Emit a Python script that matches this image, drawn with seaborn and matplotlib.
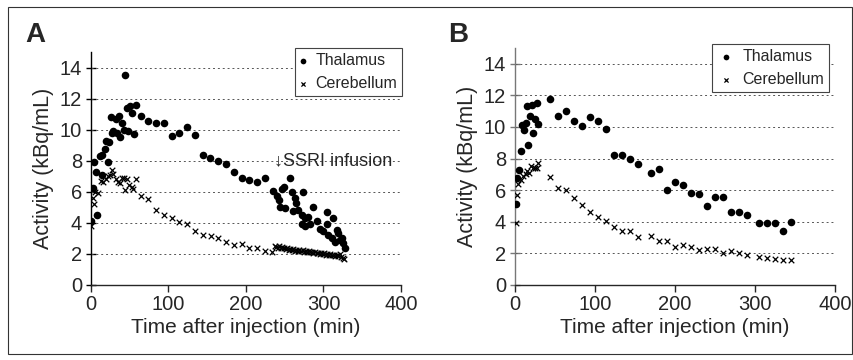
import matplotlib
matplotlib.use("Agg")
import matplotlib.pyplot as plt
import matplotlib.patches as patches
import seaborn as sns
import pandas as pd

# Panel A - thalamus
a_thal_t = [0.4, 2.2, 3.9, 6, 8.2, 11.6, 13.8, 14, 17.6, 20, 22, 23.6, 25.8, 27.5, 28.8, 32, 33,
            35.7, 38, 40, 42, 43.4, 46, 48, 50, 52.5, 55.5, 58, 64, 74, 84, 94, 104.5, 114, 124,
            134, 144, 154, 164, 174, 184.5, 194.5, 204, 214, 224.5, 235, 239.6, 243, 244, 246,
            249, 250, 256.8, 259, 261, 263, 265, 267.5, 272, 272, 274, 276, 276, 280, 282.6, 287,
            291, 295.5, 300, 304, 304, 306, 310.6, 312.6, 315, 317, 319, 321, 323.5, 324.7, 327.7]
a_thal_v = [4.1, 6.25, 7.95, 7.3, 4.5, 8.3, 7.05, 8.4, 8.75, 9.3, 7.9, 9.2, 10.8, 9.8, 9.9, 10.7, 9.8,
            10.9, 9.5, 10.4, 10.0, 13.5, 11.4, 9.9, 11.5, 11.05, 9.7, 11.6, 10.9, 10.55, 10.45, 10.45,
            9.6, 9.8, 10.2, 9.65, 8.4, 8.2, 8.0, 7.8, 7.25, 6.9, 6.75, 6.65, 6.9, 6.05, 5.7, 5.5, 5.05,
            6.2, 6.3, 4.95, 6.9, 6.0, 4.75, 5.6, 5.3, 4.85, 4.5, 3.9, 6.0, 4.3, 3.8, 4.4, 3.9, 5.05,
            4.1, 3.6, 3.45, 4.7, 3.9, 3.25, 3.05, 4.3, 2.8, 3.55, 3.35, 2.9, 3.05, 2.7, 2.4]

# Panel A - cerebellum
a_cer_t = [0.4, 2, 4, 5, 9.5, 12.5, 16, 19, 22, 25, 27.5, 29, 32, 35, 37.5, 39.5, 43, 44, 47, 49.5,
           52.5, 54.5, 58, 64, 74, 84, 94, 104, 114, 124, 134, 144, 154.5, 164, 174, 184.5, 194.5,
           204, 214, 224.5, 233,
           237, 239, 241, 243, 245, 247, 249, 251, 253, 255, 257, 259, 261, 263, 265, 267, 269, 271,
           273, 275, 277, 279, 281, 283, 285, 287, 289, 291, 293, 295, 297, 299, 301, 303, 305, 307,
           309, 311, 313, 315, 317, 319, 321, 323, 325, 327]
a_cer_v = [3.8, 5.6, 5.2, 6.0, 5.9, 6.7, 6.65, 6.8, 7.0, 7.1, 7.4, 7.15, 6.8, 6.65, 6.55, 6.9, 6.9,
           6.1, 6.8, 6.45, 6.3, 6.2, 6.8, 5.7, 5.55, 4.85, 4.5, 4.3, 4.05, 3.9, 3.45, 3.25, 3.17, 3.0,
           2.75, 2.55, 2.65, 2.4, 2.35, 2.2, 2.15,
           2.52, 2.45, 2.40, 2.48, 2.35, 2.42, 2.38, 2.30, 2.36, 2.28, 2.33, 2.25, 2.30, 2.22, 2.27,
           2.20, 2.24, 2.18, 2.23, 2.15, 2.20, 2.12, 2.17, 2.10, 2.14, 2.06, 2.11, 2.04, 2.08, 2.00,
           2.05, 1.98, 2.03, 1.95, 2.00, 1.93, 1.98, 1.90, 1.96, 1.88, 1.94, 1.85, 1.98, 1.80, 1.75,
           1.70]

# Panel B - thalamus
b_thal_t = [1, 2, 5, 7, 9, 11, 13.3, 14.6, 16.7, 18.75, 20.8, 23, 25, 27, 29, 43.75, 54, 63.75, 74,
            84, 94, 104, 114, 124, 134, 144, 154, 170, 180, 190.4, 200, 210, 220, 230, 240.4, 250.4,
            260.4, 270, 280, 290, 305, 315.4, 325.4, 335.4, 345.4]
b_thal_v = [5.1, 6.8, 7.3, 8.45, 10.15, 9.8, 10.25, 11.35, 8.85, 10.7, 11.4, 9.6, 10.5, 11.5, 10.2,
            11.75, 10.7, 11.0, 10.35, 10.05, 10.65, 10.35, 9.9, 8.2, 8.25, 7.95, 7.65, 7.1, 7.35, 6.0,
            6.5, 6.3, 5.85, 5.75, 5.0, 5.6, 5.6, 4.6, 4.65, 4.4, 3.9, 3.9, 3.95, 3.4, 4.0]

# Panel B - cerebellum
b_cer_t = [1, 2.5, 4, 7.5, 10.4, 13.3, 15.4, 18, 20, 22.5, 25, 27.5, 29, 43.75, 54, 63.75, 74, 84,
           94, 104, 114, 124, 134, 144, 154, 170, 180, 190, 200, 210, 220, 230, 240, 250, 260, 270,
           280, 290, 305, 315, 325, 335, 345]
b_cer_v = [3.95, 5.7, 6.4, 6.65, 6.9, 7.05, 7.2, 7.1, 7.55, 7.4, 7.4, 7.4, 7.7, 6.85, 6.15, 6.0,
           5.5, 5.05, 4.6, 4.3, 4.05, 3.65, 3.4, 3.4, 3.05, 3.1, 2.8, 2.8, 2.4, 2.55, 2.4, 2.2, 2.3,
           2.3, 2.05, 2.15, 2.05, 1.9, 1.8, 1.7, 1.65, 1.6, 1.6]

y_ticks = [0, 2, 4, 6, 8, 10, 12, 14]
x_ticks = [0, 100, 200, 300, 400]

sns.set_style("ticks")
plt.rcParams['font.family'] = ['Liberation Sans', 'DejaVu Sans']

fig = plt.figure(figsize=(8.54, 3.6), dpi=100)
ax_a = fig.add_axes([91 / 854, 1 - 285 / 360, 310 / 854, 233 / 360])
ax_b = fig.add_axes([515 / 854, 1 - 285 / 360, 320 / 854, 237 / 360])


def draw_panel(ax, thal_t, thal_v, cer_t, cer_v, spine_col):
    sns.scatterplot(x=thal_t, y=thal_v, ax=ax, marker='o', s=30, color='black',
                    edgecolor='black', linewidth=0, label='Thalamus', zorder=3)
    sns.scatterplot(x=cer_t, y=cer_v, ax=ax, marker='x', s=16, color='black',
                    linewidth=0.9, label='Cerebellum', zorder=3)
    ax.set_xlim(0, 400)
    ax.set_ylim(0, 15)
    ax.set_xticks(x_ticks)
    ax.set_yticks(y_ticks)
    for yv in y_ticks[1:]:
        ax.axhline(yv, color='#555555', linestyle=(0, (2, 3)), linewidth=0.7, zorder=1)
    sns.despine(ax=ax)
    ax.spines['left'].set_color(spine_col)
    ax.spines['left'].set_linewidth(1.0)
    ax.spines['bottom'].set_linewidth(1.0)
    ax.tick_params(axis='y', direction='inout', length=7, width=1, labelsize=14.5,
                   color=spine_col, pad=3)
    ax.tick_params(axis='x', direction='out', length=5, width=1, labelsize=14.5, pad=2)
    ax.set_xlabel('Time after injection (min)', fontsize=15, labelpad=3)
    ax.set_ylabel('Activity (kBq/mL)', fontsize=15.5, labelpad=4)


draw_panel(ax_a, a_thal_t, a_thal_v, a_cer_t, a_cer_v, 'black')
draw_panel(ax_b, b_thal_t, b_thal_v, b_cer_t, b_cer_v, '#777777')

ax_a.legend(loc='upper right', bbox_to_anchor=(402 / 854, 1 - 48 / 360),
            bbox_transform=fig.transFigure, fontsize=11.5, frameon=True, fancybox=False,
            edgecolor='#444444', framealpha=1, handlelength=0.4, handletextpad=0.6,
            borderpad=0.3, borderaxespad=0, markerscale=0.75)
ax_b.legend(loc='upper right', bbox_to_anchor=(829 / 854, 1 - 44 / 360),
            bbox_transform=fig.transFigure, fontsize=11.5, frameon=True, fancybox=False,
            edgecolor='#444444', framealpha=1, handlelength=1.1, handletextpad=0.5,
            borderpad=0.3, borderaxespad=0, markerscale=0.75)
for lg in (ax_a.get_legend(), ax_b.get_legend()):
    lg.get_frame().set_linewidth(0.8)

ax_a.text(236, 8.0, '\u2193SSRI infusion', fontsize=13, va='center', ha='left')

fig.text(25 / 854, 1 - 35 / 360, 'A', fontsize=20, fontweight='bold', va='center')
fig.text(448 / 854, 1 - 35 / 360, 'B', fontsize=20, fontweight='bold', va='center')

fig.patches.append(patches.Rectangle((8 / 854, 6 / 360), 844 / 854, 347 / 360,
                                     transform=fig.transFigure, fill=False,
                                     edgecolor='#333333', linewidth=0.8))

plt.savefig('out.png', dpi=100)
